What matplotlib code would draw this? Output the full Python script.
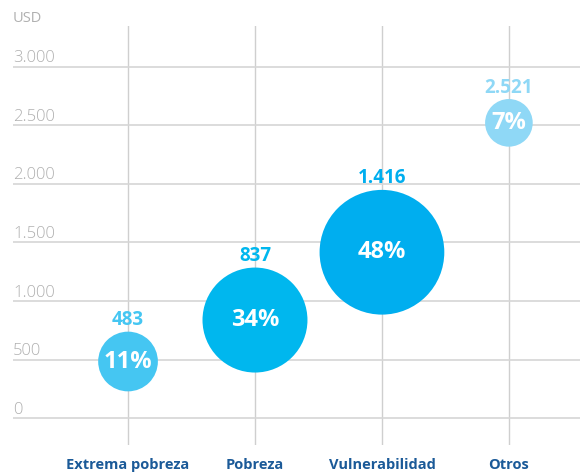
import numpy as np
import matplotlib
matplotlib.use("Agg")
import matplotlib.pyplot as plt
import matplotlib.transforms as mtransforms

plt.rcParams['font.family'] = ['Open Sans', 'DejaVu Sans']

#%% Datos
categorias = ['Extrema pobreza', 'Pobreza', 'Vulnerabilidad', 'Otros']
valores = [483, 837, 1416, 2521]
etiquetas_valor = ['483', '837', '1.416', '2.521']
porcentajes = [11, 34, 48, 7]
colores = ['#45c6f2', '#00b7ee', '#00aeef', '#8fd8f6']

yticks = [0, 500, 1000, 1500, 2000, 2500, 3000]
ytick_labels = ['0', '500', '1.000', '1.500', '2.000', '2.500', '3.000']

#%% Figura
fig = plt.figure(figsize=(5.8, 4.72), dpi=100)
ax = fig.add_axes([13/580, 27/472, 1 - 13/580, 419/472])

xx = np.arange(len(categorias))
ax.set_xlim(-0.906, 3.56)
ax.set_ylim(-230, 3348)

# grilla
for x in xx:
    ax.axvline(x, color='#cfcfcf', lw=1, zorder=1)
for y in yticks:
    ax.axhline(y, color='#d6d6d6', lw=1.2, zorder=1)

trans = mtransforms.blended_transform_factory(ax.transAxes, ax.transData)
for y, lab in zip(yticks, ytick_labels):
    ax.text(0, y + 38, lab, transform=trans, ha='left', va='baseline',
            fontsize=12, color='#b0b0b0', fontweight='light')
fig.text(13/580, 1 - 18/472, 'USD', ha='left', va='center',
         fontsize=10.5, color='#b0b0b0')

# burbujas (area proporcional al porcentaje)
tam = [168 * p for p in porcentajes]
ax.scatter(xx, valores, s=tam, c=colores, zorder=3, linewidths=0)

for x, v, p, s, lab, col in zip(xx, valores, porcentajes, tam, etiquetas_valor, colores):
    ax.text(x, v, f'{p}%', ha='center', va='center', color='white',
            fontsize=17, fontweight='bold', zorder=4)
    r_pt = np.sqrt(s) / 2
    ax.annotate(lab, (x, v), xytext=(0, r_pt + 1), textcoords='offset points',
                ha='center', va='bottom', color=col, fontsize=13.5,
                fontweight='bold', zorder=4)

trans_x = mtransforms.blended_transform_factory(ax.transData, ax.transAxes)
for x, cat in zip(xx, categorias):
    ax.text(x, -0.03, cat, transform=trans_x,
            ha='center', va='top', fontsize=10.5, fontweight='bold', color='#1b5a98')

ax.set_xticks([])
ax.set_yticks([])
for s in ax.spines.values():
    s.set_visible(False)
ax.patch.set_alpha(0)

fig.savefig('out.png', dpi=100)
